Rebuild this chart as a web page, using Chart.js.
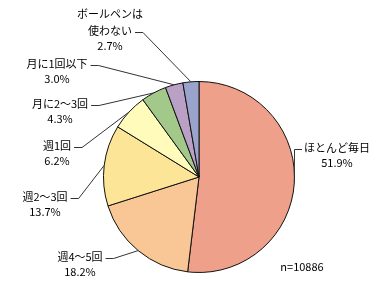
<!DOCTYPE html>
<html>
<head>
<meta charset="utf-8">
<script src="https://cdn.jsdelivr.net/npm/chart.js@4"></script>
<style>
  html, body { margin: 0; padding: 0; background: #fff; }
  #wrap { width: 385px; height: 308px; }
</style>
</head>
<body>
<div id="wrap"><canvas id="pie" width="385" height="308"></canvas></div>
<script>
const CATEGORIES = ["ほとんど毎日", "週4〜5回", "週2〜3回", "週1回", "月に2〜3回", "月に1回以下", "ボールペンは\n使わない"];
const SHARES = [51.9, 18.2, 13.7, 6.2, 4.3, 3.0, 2.7];
const SAMPLE_NOTE = "n=10886";

const SLICE_COLORS = ["#efa08a", "#f9c796", "#fde598", "#fffbba", "#a3c98a", "#b9a0c4", "#99a3cc"];

// where each label block sits (centre x, first line y)
const LABEL_SPOTS = [
  [337, 148], [80, 257], [45, 197], [57, 146], [60, 104], [57, 64], [110, 14]
];

const FONT = '11px "Noto Sans CJK JP", "Noto Sans", sans-serif';

const labelPlugin = {
  id: "pieLabels",
  afterDraw(chart) {
    const ctx = chart.ctx;
    const arcs = chart.getDatasetMeta(0).data;
    ctx.save();
    ctx.font = FONT;
    ctx.fillStyle = "#000";
    ctx.textBaseline = "middle";
    ctx.textAlign = "center";

    arcs.forEach((arc, i) => {
      const [lx, ly] = LABEL_SPOTS[i];
      const lines = CATEGORIES[i].split("\n");
      lines.forEach((t, k) => ctx.fillText(t, lx, ly + k * 17));
      const lastY = ly + (lines.length - 1) * 17;
      ctx.fillText(SHARES[i].toFixed(1) + "%", lx, lastY + 15);

      // leader line to the slice edge
      const mid = (arc.startAngle + arc.endAngle) / 2;
      const px = arc.x + Math.cos(mid) * arc.outerRadius;
      const py = arc.y + Math.sin(mid) * arc.outerRadius;
      const w = ctx.measureText(lines[lines.length - 1]).width;
      let sx, hx;
      if (lx < arc.x) {
        sx = lx + w / 2 + 3;
        hx = sx + 8;
      } else {
        sx = lx - ctx.measureText(lines[0]).width / 2 - 2;
        hx = arc.x + arc.outerRadius;
      }
      const sy = Math.round(lastY) + 1.5;
      ctx.strokeStyle = "#333";
      ctx.lineWidth = 1;
      ctx.beginPath();
      ctx.moveTo(sx, sy);
      ctx.lineTo(hx, sy);
      ctx.lineTo(px, py);
      ctx.stroke();
    });

    ctx.fillText(SAMPLE_NOTE, 302, 267);
    ctx.restore();
  }
};

new Chart(document.getElementById("pie"), {
  type: "pie",
  data: {
    labels: CATEGORIES,
    datasets: [{
      data: SHARES,
      backgroundColor: SLICE_COLORS,
      borderColor: "#111",
      borderWidth: 1
    }]
  },
  options: {
    responsive: false,
    animation: false,
    layout: { padding: { left: 103, right: 90, top: 81, bottom: 35 } },
    plugins: {
      legend: { display: false },
      tooltip: { enabled: false }
    }
  },
  plugins: [labelPlugin]
});
</script>
</body>
</html>
